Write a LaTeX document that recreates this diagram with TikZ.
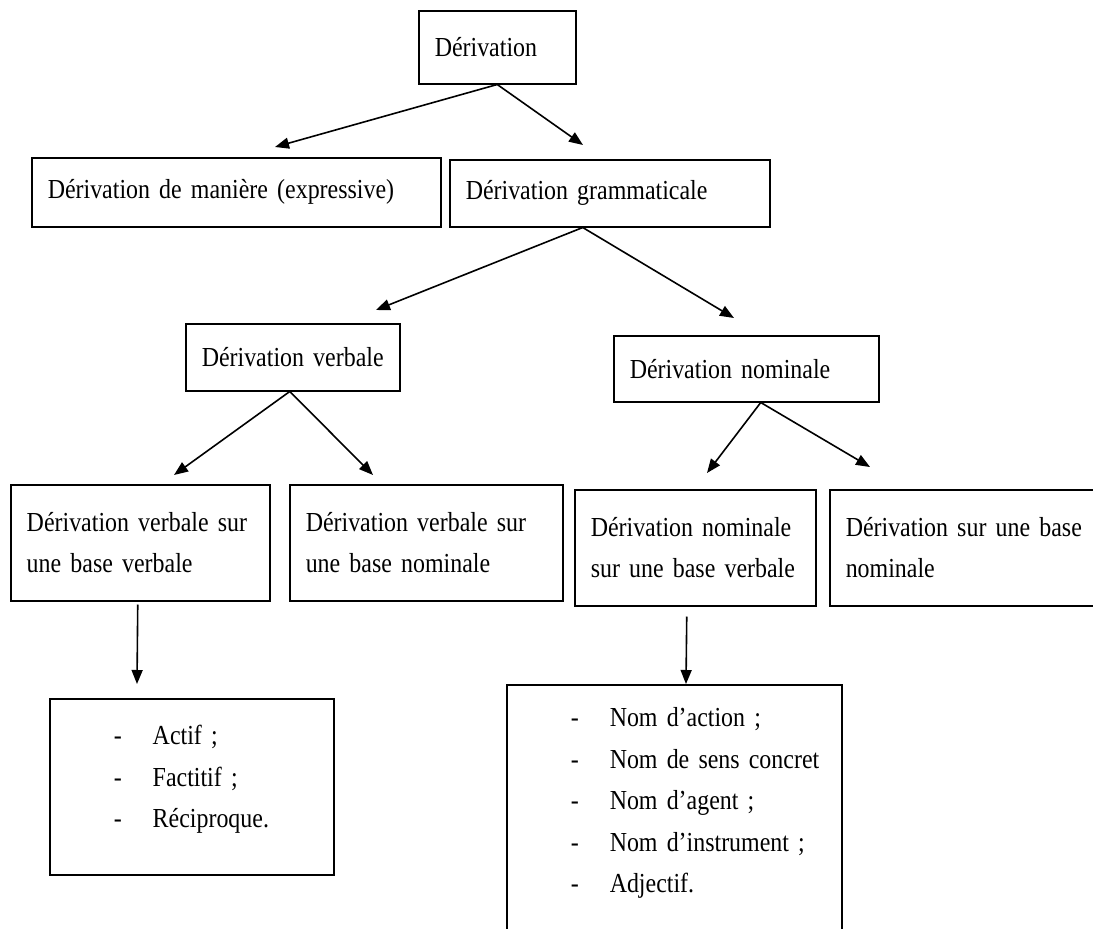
\documentclass[tikz,border=0pt]{standalone}
\usepackage{fontspec}
\setmainfont{Liberation Serif}[FakeStretch=0.87, WordSpace=0.85]
\usetikzlibrary{arrows.meta, positioning}

\hyphenpenalty=10000
\exhyphenpenalty=10000
\newcommand{\dashitem}[1]{\hspace*{64pt}\makebox[39pt][l]{-}#1}

\begin{document}
\begin{tikzpicture}[x=1pt, y=-1pt]
    % Define styles
    \tikzstyle{box}=[draw, line width=1.5pt, anchor=north west, align=left, inner xsep=16pt, inner ysep=0pt, font=\fontsize{27.5}{41.5}\selectfont]
    \tikzstyle{listbox}=[box, inner xsep=0pt]
    \tikzstyle{link}=[draw=black, line width=1.6pt, -{Triangle[length=14pt, width=11pt]}]

    \clip (0,0) rectangle (1093,929);

    % Draw the boxes
    \foreach \name/\x/\y/\w/\h/\txt in {
        derivation/418/10/157/73/{Dérivation},
        maniere/31/157/409/69/{Dérivation de manière (expressive)},
        grammaticale/449/159/320/67/{Dérivation grammaticale},
        verbale/185/323/214/67/{Dérivation verbale},
        nominale/613/335/265/66/{Dérivation nominale},
        vsv/10/484/259/116/{Dérivation verbale sur\\une base verbale},
        vsn/289/484/273/116/{Dérivation verbale sur\\une base nominale},
        nsv/574/489/241/116/{Dérivation nominale\\sur une base verbale},
        snb/829/489/290/116/{Dérivation sur une base\\nominale}}
    {
        \pgfmathsetmacro\tw{\w-32}
        \node[box, minimum width=\w pt, minimum height=\h pt, text width=\tw pt] (\name) at (\x,\y) {\txt};
    }

    % Draw the lists
    \node[listbox, text width=284pt, text height=46pt, text depth=130pt] (actif) at (49,698)
        {\dashitem{Actif~;}\\\dashitem{Factitif~;}\\\dashitem{Réciproque.}};
    \node[listbox, text width=335pt, text height=42pt, text depth=230pt] (noms) at (506,684)
        {\dashitem{Nom d’action~;}\\\dashitem{Nom de sens concret}\\\dashitem{Nom d’agent~;}\\\dashitem{Nom d’instrument~;}\\\dashitem{Adjectif.}};

    % Arrow ends
    \foreach \name/\x/\y in {t1/275/147, t2/583/145, t3/376/310, t4/734/318, t5/174/475,
        t6/373/475, t7/707/473, t8/870/467, t9/137/684, t10/686/684}
        \coordinate (\name) at (\x,\y);

    % Draw the arrows
    \draw[link] (derivation.south) -- (t1);
    \draw[link] (derivation.south) -- (t2);
    \draw[link] ([xshift=-27pt]grammaticale.south) -- (t3);
    \draw[link] ([xshift=-27pt]grammaticale.south) -- (t4);
    \draw[link] ([xshift=-3pt]verbale.south) -- (t5);
    \draw[link] ([xshift=-3pt]verbale.south) -- (t6);
    \draw[link] ([xshift=14.5pt]nominale.south) -- (t7);
    \draw[link] ([xshift=14.5pt]nominale.south) -- (t8);
    \draw[link] ([xshift=-2.5pt, yshift=-3pt]vsv.south) -- (t9);
    \draw[link] ([xshift=-8.5pt, yshift=-10pt]nsv.south) -- (t10);

\end{tikzpicture}
\end{document}
